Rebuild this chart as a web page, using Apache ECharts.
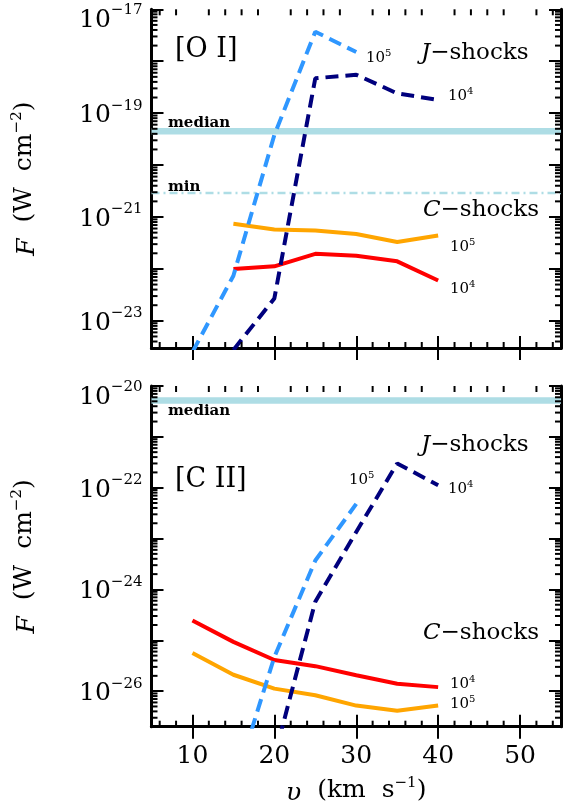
<!DOCTYPE html>
<html><head><meta charset="utf-8">
<script src="https://cdn.jsdelivr.net/npm/echarts@6/dist/echarts.min.js"></script>
<style>html,body{margin:0;padding:0;background:#fff}#c{width:563px;height:810px}</style>
</head><body><div id="c"></div>
<script>
// ---------- data ----------
const xTicks = [10, 20, 30, 40, 50];
// [O I] panel
const oiJ5x = [10, 15, 20, 25, 30];
const oiJ5  = [2.5e-24, 7.4e-23, 3.8e-20, 3.7e-18, 1.5e-18];
const oiJ4x = [15, 20, 25, 30, 35, 40];
const oiJ4  = [2.75e-24, 2.7e-23, 4.7e-19, 5.5e-19, 2.4e-19, 1.8e-19];
const oiCx  = [15, 20, 25, 30, 35, 40];
const oiC5  = [7.4e-22, 5.75e-22, 5.5e-22, 4.7e-22, 3.3e-22, 4.4e-22];
const oiC4  = [1.0e-22, 1.12e-22, 1.95e-22, 1.8e-22, 1.4e-22, 6.0e-23];
const oiMedian = 4.5e-20;
const oiMin = 2.9e-21;
const oiLabelExp = [-17, -19, -21, -23];
// [C II] panel
const ciiJ5x = [15, 20, 25, 30];
const ciiJ5  = [1.25e-28, 4.7e-26, 3.7e-24, 4.8e-23];
const ciiJ4x = [20, 25, 30, 35, 40];
const ciiJ4  = [5.0e-28, 5.75e-25, 1.35e-23, 3.0e-22, 1.12e-22];
const ciiCx  = [10, 15, 20, 25, 30, 35, 40];
const ciiC4  = [2.45e-25, 9.3e-26, 4.1e-26, 3.1e-26, 2.05e-26, 1.4e-26, 1.2e-26];
const ciiC5  = [5.6e-26, 2.1e-26, 1.12e-26, 8.3e-27, 5.2e-27, 4.1e-27, 5.2e-27];
const ciiMedian = 5.2e-21;
const ciiLabelExp = [-20, -22, -24, -26];

// ---------- helpers ----------
const FONT = 'DejaVu Serif';
const XMIN = 5, XMAX = 55;
const ranges = [[3e-24, 1e-17], [2e-27, 1e-20]];
const pair = (xs, ys) => xs.map((x, i) => [x, ys[i]]);
function yMinorVals(r) {
  const out = [];
  for (let d = Math.floor(Math.log10(r[0])); d <= Math.ceil(Math.log10(r[1])); d++) {
    for (let m = 2; m <= 9; m++) {
      const v = m * Math.pow(10, d);
      if (v > r[0] && v < r[1]) out.push([XMIN, v]);
    }
  }
  return out;
}
function xMinorVals(r) {
  const out = [];
  for (let x = 6; x < XMAX; x += 2) if (x % 10 !== 0) out.push([x, r[0]]);
  return out;
}
const supRich = {
  b: { fontFamily: FONT, fontSize: 25, lineHeight: 30, verticalAlign: 'bottom', color: '#000' },
  s: { fontFamily: FONT, fontSize: 15, lineHeight: 10, verticalAlign: 'top', color: '#000' },
  sp: { fontSize: 6, lineHeight: 17 }
};
function yFormatter(exps) {
  const top = Math.max.apply(null, exps);
  return function (v) {
    const e = Math.log10(v);
    const r = Math.round(e);
    if (Math.abs(e - r) > 1e-6 || exps.indexOf(r) < 0) return '';
    const txt = '{b|10}{s|\u2212' + Math.abs(r) + '}';
    return r === top ? '{sp| }\n' + txt : txt;
  };
}
const axisLine = { show: true, lineStyle: { color: '#000', width: 3 } };
const nameStyle = { fontFamily: FONT, fontSize: 25, color: '#000',
  rich: { i: { fontFamily: FONT, fontSize: 25, fontStyle: 'italic', lineHeight: 30, verticalAlign: 'bottom' },
          s: { fontFamily: FONT, fontSize: 15, lineHeight: 12, verticalAlign: 'top' } } };
function xAxisDef(grid, pos, labels) {
  return {
    type: 'value', gridIndex: grid, position: pos, min: XMIN, max: XMAX, interval: 5,
    axisLine, splitLine: { show: false },
    axisTick: { show: true, inside: true, length: 12, customValues: xTicks, lineStyle: { color: '#000', width: 2 } },
    axisLabel: { show: labels, margin: 17, fontFamily: FONT, fontSize: 25, color: '#000', customValues: xTicks },
    name: labels ? '{i|\u03c5}  (km  s{s|\u22121})' : '',
    nameLocation: 'middle', nameGap: 49, nameMoveOverlap: false,
    nameTextStyle: nameStyle
  };
}
function yAxisDef(grid, pos, range, exps) {
  const left = pos === 'left';
  return {
    type: 'log', logBase: 10, gridIndex: grid, position: pos, min: range[0], max: range[1],
    axisLine, splitLine: { show: false }, splitNumber: 7,
    axisTick: { show: true, inside: true, length: 12, lineStyle: { color: '#000', width: 2 } },
    axisLabel: { show: left, margin: 9, formatter: yFormatter(exps), rich: supRich },
    name: left ? '{i|F}  (W  cm{s|\u22122})' : '',
    nameLocation: 'middle', nameGap: 112, nameRotate: 90, nameMoveOverlap: false,
    nameTextStyle: nameStyle
  };
}
function lineSeries(xi, yi, data, color, dashed, z) {
  return {
    type: 'line', xAxisIndex: xi, yAxisIndex: yi, data, symbol: 'none', silent: true, z,
    clip: true, animation: false,
    lineStyle: { color, width: 4, type: dashed ? [13, 7] : 'solid', cap: 'butt' }
  };
}
function refLine(xi, yi, value, width, type) {
  return {
    type: 'line', xAxisIndex: xi, yAxisIndex: yi, data: [[XMIN, value], [XMAX, value]],
    symbol: 'none', silent: true, z: 1, animation: false,
    lineStyle: { color: '#AEDDE5', width, type, cap: 'butt' }
  };
}
const tickStyle = { stroke: '#000', lineWidth: 2 };
function yMinorSeries(xi, yi, range) {
  return {
    type: 'custom', xAxisIndex: xi, yAxisIndex: yi, data: yMinorVals(range), silent: true,
    animation: false, z: 10, clip: false,
    renderItem: function (params, api) {
      const v = api.value(1);
      const p0 = api.coord([XMIN, v]);
      const p1 = api.coord([XMAX, v]);
      return { type: 'group', children: [
        { type: 'line', shape: { x1: p0[0], y1: p0[1], x2: p0[0] + 6, y2: p0[1] }, style: tickStyle },
        { type: 'line', shape: { x1: p1[0] - 6, y1: p1[1], x2: p1[0], y2: p1[1] }, style: tickStyle }
      ] };
    }
  };
}
function xMinorSeries(xi, yi, range) {
  return {
    type: 'custom', xAxisIndex: xi, yAxisIndex: yi, data: xMinorVals(range), silent: true,
    animation: false, z: 10, clip: false,
    renderItem: function (params, api) {
      const v = api.value(0);
      const pb = api.coord([v, range[0]]);
      const pt = api.coord([v, range[1]]);
      return { type: 'group', children: [
        { type: 'line', shape: { x1: pb[0], y1: pb[1], x2: pb[0], y2: pb[1] - 6 }, style: tickStyle },
        { type: 'line', shape: { x1: pt[0], y1: pt[1], x2: pt[0], y2: pt[1] + 6 }, style: tickStyle }
      ] };
    }
  };
}

// ---------- text annotations ----------
const smallRich = {
  b: { fontFamily: FONT, fontSize: 15, lineHeight: 18, verticalAlign: 'bottom', fill: '#000', color: '#000' },
  s: { fontFamily: FONT, fontSize: 10, lineHeight: 8, verticalAlign: 'top', fill: '#000', color: '#000' }
};
const bigRich = {
  i: { fontFamily: FONT, fontSize: 23, fontStyle: 'italic', fill: '#000', color: '#000' },
  n: { fontFamily: FONT, fontSize: 23, fill: '#000', color: '#000' }
};
function txt(x, y, text, rich, font) {
  return { type: 'text', x, y, silent: true, z: 100,
    style: { text, rich, font: font || ('23px "' + FONT + '"'), fill: '#000', align: 'left', verticalAlign: 'middle' } };
}
const graphics = [
  txt(175, 50, '[O I]', null, '27px "' + FONT + '"'),
  txt(175, 480, '[C II]', null, '27px "' + FONT + '"'),
  txt(421, 53, '{i|J}{n|\u2212shocks}', bigRich),
  txt(423, 210, '{i|C}{n|\u2212shocks}', bigRich),
  txt(421, 445, '{i|J}{n|\u2212shocks}', bigRich),
  txt(423, 633, '{i|C}{n|\u2212shocks}', bigRich),
  txt(168, 123, 'median', null, 'bold 15px "' + FONT + '"'),
  txt(168, 187, 'min', null, 'bold 15px "' + FONT + '"'),
  txt(168, 411, 'median', null, 'bold 15px "' + FONT + '"'),
  txt(366, 57, '{b|10}{s|5}', smallRich),
  txt(448, 95, '{b|10}{s|4}', smallRich),
  txt(450, 246, '{b|10}{s|5}', smallRich),
  txt(450, 288, '{b|10}{s|4}', smallRich),
  txt(349, 479, '{b|10}{s|5}', smallRich),
  txt(448, 488, '{b|10}{s|4}', smallRich),
  txt(450, 683, '{b|10}{s|4}', smallRich),
  txt(450, 703, '{b|10}{s|5}', smallRich)
];

const C_LB = '#2F97FF', C_NAVY = '#00007D', C_OR = '#FFA500', C_RED = '#FF0000';

const option = {
  backgroundColor: '#fff',
  animation: false,
  grid: [
    { left: 151.5, top: 9.3, width: 409.5, height: 338.7, containLabel: false, outerBoundsMode: 'none' },
    { left: 151.5, top: 386, width: 409.5, height: 340.7, containLabel: false, outerBoundsMode: 'none' }
  ],
  xAxis: [
    xAxisDef(0, 'bottom', false), xAxisDef(0, 'top', false),
    xAxisDef(1, 'bottom', true), xAxisDef(1, 'top', false)
  ],
  yAxis: [
    yAxisDef(0, 'left', ranges[0], oiLabelExp), yAxisDef(0, 'right', ranges[0], oiLabelExp),
    yAxisDef(1, 'left', ranges[1], ciiLabelExp), yAxisDef(1, 'right', ranges[1], ciiLabelExp)
  ],
  series: [
    refLine(0, 0, oiMedian, 6.5, 'solid'),
    refLine(0, 0, oiMin, 2.5, [8, 4, 2, 4]),
    lineSeries(0, 0, pair(oiCx, oiC4), C_RED, false, 3),
    lineSeries(0, 0, pair(oiCx, oiC5), C_OR, false, 3),
    lineSeries(0, 0, pair(oiJ5x, oiJ5), C_LB, true, 4),
    lineSeries(0, 0, pair(oiJ4x, oiJ4), C_NAVY, true, 4),
    refLine(2, 2, ciiMedian, 6.5, 'solid'),
    lineSeries(2, 2, pair(ciiCx, ciiC4), C_RED, false, 3),
    lineSeries(2, 2, pair(ciiCx, ciiC5), C_OR, false, 3),
    lineSeries(2, 2, pair(ciiJ5x, ciiJ5), C_LB, true, 4),
    lineSeries(2, 2, pair(ciiJ4x, ciiJ4), C_NAVY, true, 4),
    yMinorSeries(0, 0, ranges[0]),
    yMinorSeries(2, 2, ranges[1]),
    xMinorSeries(0, 0, ranges[0]),
    xMinorSeries(2, 2, ranges[1])
  ],
  graphic: graphics
};
const chart = echarts.init(document.getElementById('c'), null, { renderer: 'canvas' });
chart.setOption(option);
</script></body></html>
